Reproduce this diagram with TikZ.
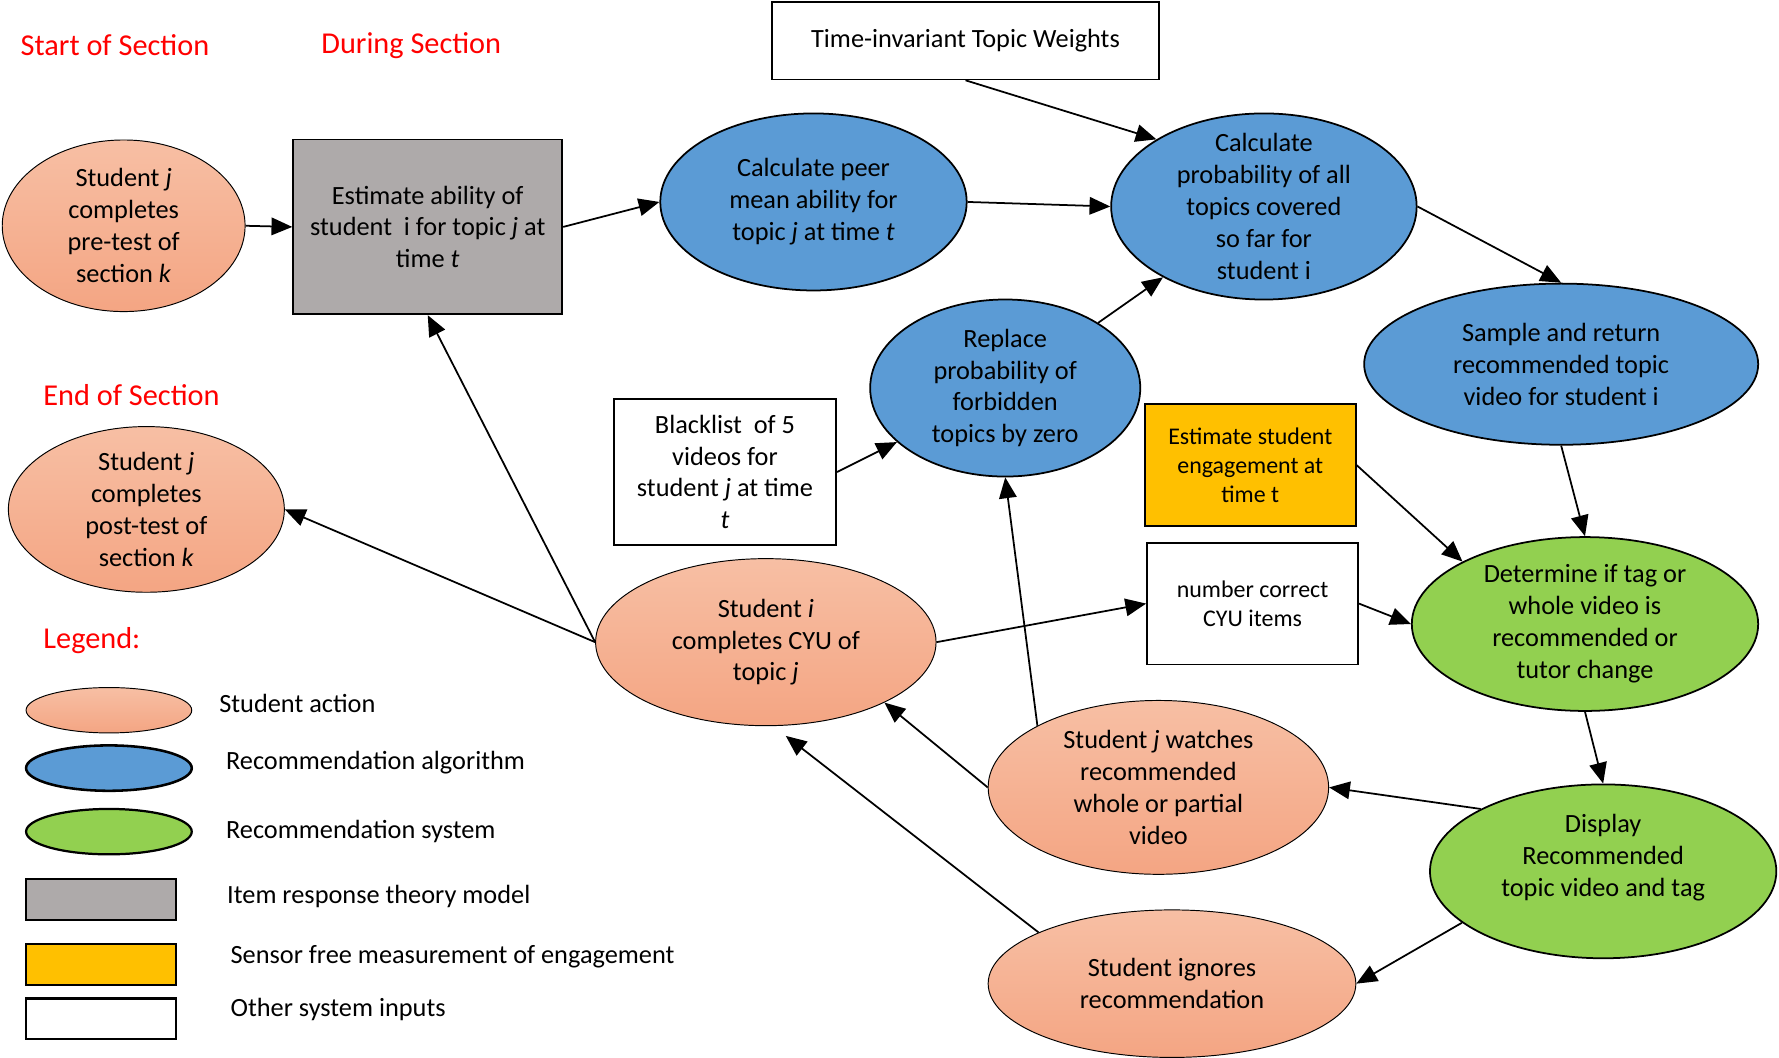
\documentclass[tikz,border=0pt]{standalone}
\usepackage{fontspec}
\setmainfont{Carlito}
\usetikzlibrary{shapes.geometric, arrows.meta}

\definecolor{headred}{HTML}{FF0000}
\definecolor{salmontop}{HTML}{F7BFA4}
\definecolor{salmonbot}{HTML}{F4A583}
\definecolor{algoblue}{HTML}{5B9BD5}
\definecolor{sysgreen}{HTML}{92D050}
\definecolor{irtgray}{HTML}{AEAAAA}
\definecolor{engyellow}{HTML}{FFC000}

\begin{document}
\begin{tikzpicture}[
        x = 0.025cm, y = -0.025cm,
        font = \fontsize{16.5}{20}\selectfont,
        heading/.style = {text = headred, font = \fontsize{19}{23}\selectfont, anchor = west, inner sep = 0pt},
        legtext/.style = {anchor = west, inner sep = 0pt},
        action/.style = {ellipse, draw, line width = 0.6pt, top color = salmontop, bottom color = salmonbot,
            inner xsep = 0pt, inner ysep = -8pt, align = center},
        algo/.style = {ellipse, draw, line width = 1.1pt, fill = algoblue,
            inner xsep = 0pt, inner ysep = -8pt, align = center},
        system/.style = {ellipse, draw, line width = 1.1pt, fill = sysgreen,
            inner xsep = 0pt, inner ysep = -8pt, align = center},
        irtbox/.style = {rectangle, draw, line width = 1.1pt, fill = irtgray, align = center},
        engbox/.style = {rectangle, draw, line width = 1.1pt, fill = engyellow, align = center},
        inbox/.style = {rectangle, draw, line width = 1.1pt, fill = white, align = center},
        arrow/.style = {-{Triangle[length = 13pt, width = 11pt]}, line width = 1.1pt}
    ]
    \useasboundingbox (0, 0) rectangle (1568, 932);

    % start of section
    \node [heading] (startlbl) at (18, 40) {Start of Section};
    \node [action, minimum width = 5.35cm, minimum height = 3.78cm] (pretest) at (109, 199)
        {Student \textit{j}\\completes\\pre-test of\\section \textit{k}};

    % during section
    \node [heading] (duringlbl) at (283, 40) {During Section};
    \node [irtbox, minimum width = 5.93cm, minimum height = 3.85cm] (irt) at (377, 200)
        {Estimate ability of\\student\ \ i for topic \textit{j} at\\time \textit{t}};
    \node [algo, minimum width = 6.75cm, minimum height = 3.9cm] (peer) at (717, 178)
        {Calculate peer\\mean ability for\\topic \textit{j} at time \textit{t}};
    \node [inbox, minimum width = 8.53cm, minimum height = 1.7cm] (weights) at (851, 36)
        {Time-invariant Topic Weights};
    \node [algo, minimum width = 6.73cm, minimum height = 4.1cm] (allprob) at (1114, 182)
        {Calculate\\probability of all\\topics covered\\so far for\\student i};
    \node [algo, minimum width = 5.95cm, minimum height = 3.9cm] (forbid) at (886, 342)
        {Replace\\probability of\\forbidden\\topics by zero};
    \node [algo, minimum width = 8.68cm, minimum height = 3.55cm] (sample) at (1376, 321)
        {Sample and return\\recommended topic\\video for student i};
    \node [inbox, minimum width = 4.9cm, minimum height = 3.23cm] (blacklist) at (639, 416)
        {Blacklist\ \ of 5\\videos for\\student \textit{j} at time\\\textit{t}};
    \node [engbox, minimum width = 4.65cm, minimum height = 2.68cm, font = \fontsize{15}{18}\selectfont] (engage) at (1102, 410)
        {Estimate student\\engagement at\\time t};
    \node [inbox, minimum width = 4.65cm, minimum height = 2.68cm, font = \fontsize{15}{18}\selectfont] (cyuitems) at (1104, 532)
        {number correct\\CYU items};
    \node [system, minimum width = 7.63cm, minimum height = 3.83cm] (decide) at (1397, 550)
        {Determine if tag or\\whole video is\\recommended or\\tutor change};
    \node [action, minimum width = 7.5cm, minimum height = 3.68cm] (cyu) at (675, 566)
        {Student \textit{i}\\completes CYU of\\topic \textit{j}};
    \node [action, minimum width = 7.5cm, minimum height = 3.83cm] (watch) at (1021, 694)
        {Student \textit{j} watches\\recommended\\whole or partial\\video};
    \node [system, minimum width = 7.63cm, minimum height = 3.83cm] (show) at (1413, 768)
        {Display\\Recommended\\topic video and tag\\~};
    \node [action, minimum width = 8.1cm, minimum height = 3.25cm] (ignore) at (1033, 867)
        {Student ignores\\recommendation};

    % end of section
    \node [heading] (endlbl) at (38, 348) {End of Section};
    \node [action, minimum width = 6.08cm, minimum height = 3.65cm] (posttest) at (129, 449)
        {Student \textit{j}\\completes\\post-test of\\section \textit{k}};

    % legend
    \node [heading] (leglbl) at (38, 565) {Legend:};
    \node [action, minimum width = 3.65cm, minimum height = 1cm] (legaction) at (96, 626) {};
    \node [algo, line width = 1.6pt, minimum width = 3.65cm, minimum height = 1cm] (legalgo) at (96, 677) {};
    \node [system, line width = 1.4pt, minimum width = 3.65cm, minimum height = 1cm] (legsystem) at (96, 733) {};
    \node [irtbox, line width = 1.4pt, minimum width = 3.3cm, minimum height = 0.9cm] (legirt) at (89, 793) {};
    \node [engbox, line width = 1.4pt, minimum width = 3.3cm, minimum height = 0.9cm] (legeng) at (89, 850) {};
    \node [inbox, line width = 1.4pt, minimum width = 3.3cm, minimum height = 0.9cm] (leginput) at (89, 898) {};
    \node [legtext] at (193, 620) {Student action};
    \node [legtext] at (199, 672) {Recommendation algorithm};
    \node [legtext] at (199, 733) {Recommendation system};
    \node [legtext] at (200, 790) {Item response theory model};
    \node [legtext] at (203, 843) {Sensor free measurement of engagement};
    \node [legtext] at (203, 890) {Other system inputs};

    % arrows
    \draw [arrow] (pretest.east) -- (irt.west);
    \draw [arrow] (irt.east) -- (peer.west);
    \draw [arrow] (peer.east) -- (allprob.west);
    \draw [arrow] (weights.south) -- (allprob.148);
    \draw [arrow] (forbid) -- (allprob);
    \draw [arrow] (allprob.east) -- (sample.north);
    \draw [arrow] (blacklist.east) -- (forbid);
    \draw [arrow] (sample.south) -- (decide.north);
    \draw [arrow] (engage.east) -- (decide.153);
    \draw [arrow] (cyuitems.east) -- (decide.west);
    \draw [arrow] (decide.south) -- (show.north);
    \draw [arrow] (show.153) -- (watch.east);
    \draw [arrow] (show.200) -- (ignore.east);
    \draw [arrow] (cyu.east) -- (cyuitems.west);
    \draw [arrow] (cyu.west) -- (posttest.east);
    \draw [arrow] (cyu.west) -- (irt.south);
    \draw [arrow] (watch.153) -- (forbid.south);
    \draw [arrow] (watch.west) -- (cyu.333);
    \draw [arrow, shorten > = 10pt] (ignore.159) -- (cyu.275);
\end{tikzpicture}
\end{document}
